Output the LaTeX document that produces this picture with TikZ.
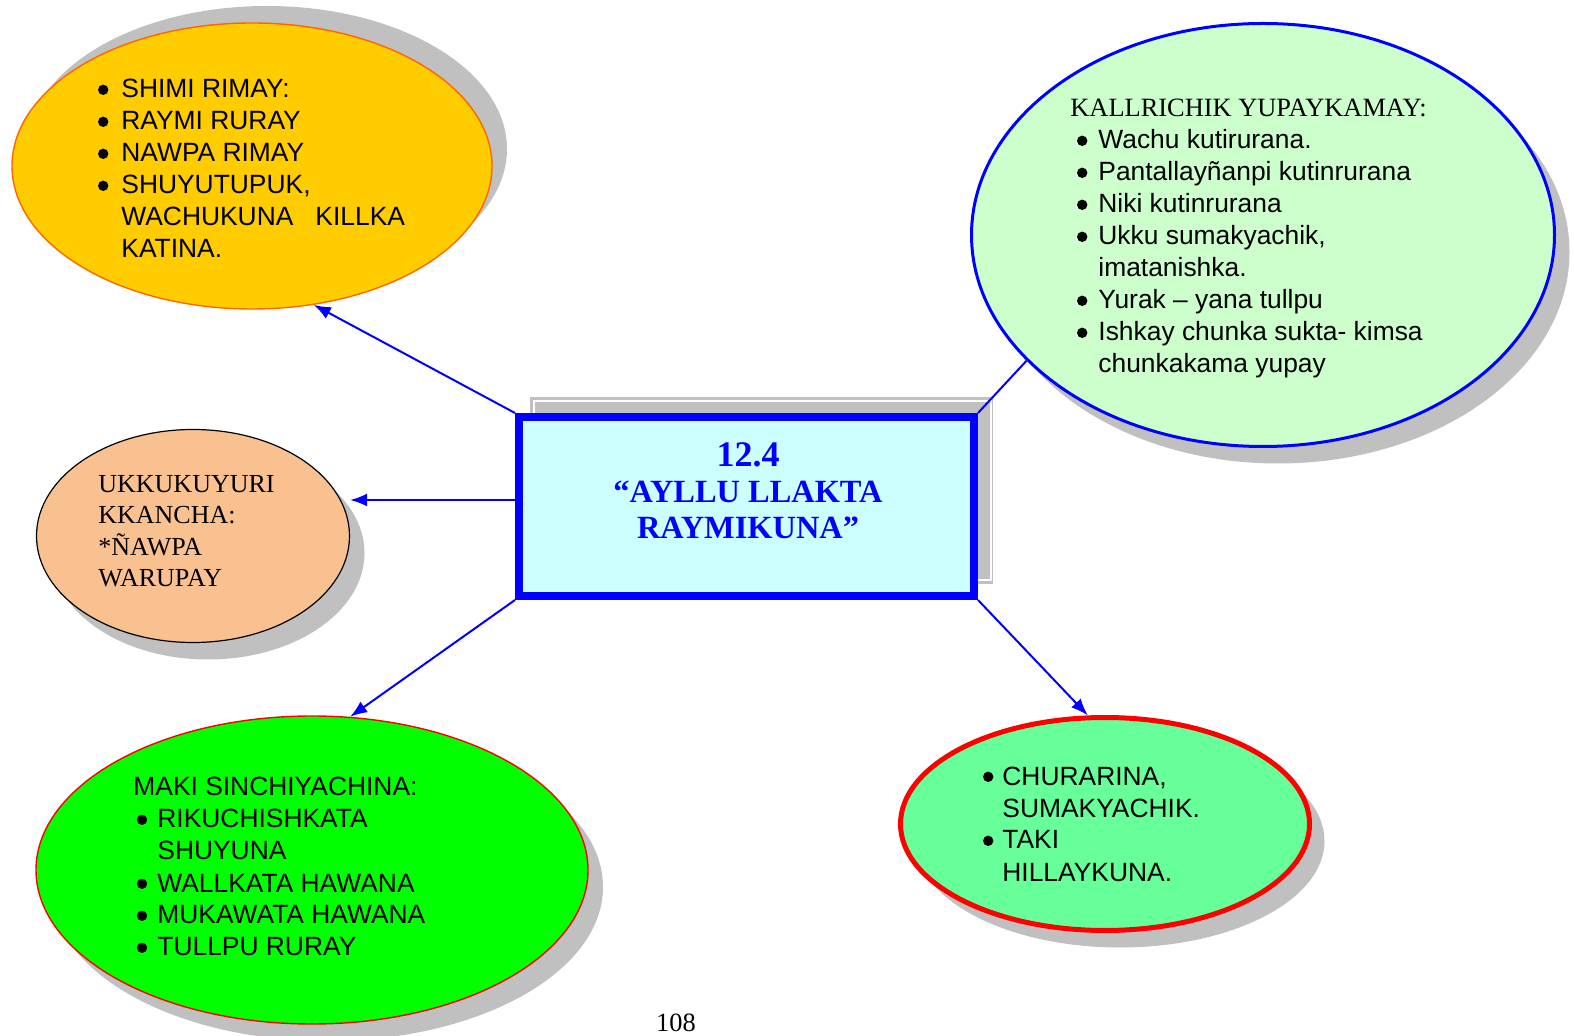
\documentclass[tikz,border=0pt]{standalone}
\usepackage{fontspec}
\setmainfont{Liberation Serif}
\newfontfamily\arialf{Liberation Sans}
\usetikzlibrary{shapes.geometric,arrows.meta,shadows}
\pgfdeclarelayer{bg}
\pgfsetlayers{bg,main}
\definecolor{shgray}{HTML}{C0C0C0}
\definecolor{yelf}{HTML}{FFCC00}
\definecolor{yeld}{HTML}{FF6600}
\definecolor{kalf}{HTML}{CCFFCC}
\definecolor{orf}{HTML}{F9C090}
\definecolor{grnf}{HTML}{00FF00}
\definecolor{mintf}{HTML}{66FF99}
\definecolor{cyanf}{HTML}{CCFFFF}
\definecolor{pureblue}{HTML}{0000FF}
\definecolor{purered}{HTML}{FF0000}
\newcommand\bul[1]{\makebox[#1][l]{\hspace*{0.3pt}\tikz[baseline=0pt]\fill[black] (2.6pt,4.1pt) circle[radius=2.6pt];}}
\begin{document}
\begin{tikzpicture}[x=0.5pt,y=-0.5pt,
  oval/.style={ellipse, inner sep=0pt},
  shdown/.style={drop shadow={shadow xshift=7.5pt,shadow yshift=-8.5pt,opacity=1,fill=shgray}},
  shup/.style={drop shadow={shadow xshift=7.5pt,shadow yshift=8.5pt,opacity=1,fill=shgray}},
  sans/.style={font=\arialf\fontsize{13.2}{16}\selectfont},
  txt/.style={inner sep=0pt, anchor=base west},
  arr/.style={draw=pureblue, line width=1pt, -{Latex[length=8.5pt,width=6.5pt]}},
  link/.style={draw=pureblue, line width=1pt},
]
\useasboundingbox (0,0) rectangle (1574,1036);
\clip (0,0) rectangle (1574,1036);
\begin{pgfonlayer}{bg}
\fill[white] (0,0) rectangle (1574,1036);
\end{pgfonlayer}

% ellipses
\node[oval, shup, fill=yelf, draw=yeld, line width=0.7pt, minimum width=240pt, minimum height=143pt] (yel) at (252,166) {};
\node[oval, shdown, fill=kalf, draw=pureblue, line width=1.5pt, minimum width=291.5pt, minimum height=211.5pt] (kal) at (1263,235) {};
\node[oval, shdown, fill=orf, draw=black, line width=0.6pt, minimum width=156.5pt, minimum height=106.5pt] (ukk) at (193,536) {};
\node[oval, shdown, fill=grnf, draw=purered, line width=0.7pt, minimum width=276pt, minimum height=154pt] (maki) at (312,870) {};
\node[oval, shdown, fill=mintf, draw=purered, line width=2.5pt, minimum width=204.5pt, minimum height=106.5pt] (chu) at (1105,824) {};

% central box
\node[draw=pureblue, fill=cyanf, line width=4pt, minimum width=227.5pt, minimum height=89.5pt, inner sep=0pt] (box) at (746.5,506.5) {};
\begin{pgfonlayer}{bg}
\fill[shgray] ([shift={(15,-16)}]box.north west) rectangle ([shift={(15,-16)}]box.south east);
\draw[white, line width=0.6pt] ([shift={(19,-12)}]box.north west) rectangle ([shift={(13,-20)}]box.south east);
\end{pgfonlayer}

% connectors
\draw[arr] (box.north west) -- (yel.-66);
\draw[arr] ([yshift=3.25pt]box.west) -- ([yshift=3.25pt]box.west -| ukk.east);
\draw[arr] (box.south west) -- (maki.76);
\draw[arr] (box.south east) -- (chu.99);
\draw[link] (box.north east) -- (kal.208.6);

% texts
\node[txt, sans] (yeltxt) at (97,98) {\begin{tabular}[t]{@{}l@{}}
\bul{12pt}SHIMI RIMAY:\\
\bul{12pt}RAYMI RURAY\\
\bul{12pt}NAWPA RIMAY\\
\bul{12pt}SHUYUTUPUK,\\
\hspace*{12pt}WACHUKUNA\ \ \ KILLKA\\
\hspace*{12pt}KATINA.
\end{tabular}};

\node[txt, sans] (kaltxt) at (1070,117) {\begin{tabular}[t]{@{}l@{}}
{\rmfamily KALLRICHIK YUPAYKAMAY:}\\
\hspace*{3pt}\bul{11pt}Wachu kutirurana.\\
\hspace*{3pt}\bul{11pt}Pantallayñanpi kutinrurana\\
\hspace*{3pt}\bul{11pt}Niki kutinrurana\\
\hspace*{3pt}\bul{11pt}Ukku sumakyachik,\\
\hspace*{14pt}imatanishka.\\
\hspace*{3pt}\bul{11pt}Yurak – yana tullpu\\
\hspace*{3pt}\bul{11pt}Ishkay chunka sukta- kimsa\\
\hspace*{14pt}chunkakama yupay
\end{tabular}};

\node[txt, font=\rmfamily\fontsize{13}{15.5}\selectfont] (ukktxt) at (98,493) {\begin{tabular}[t]{@{}l@{}}
UKKUKUYURI\\
KKANCHA:\\
\relax *ÑAWPA\\
WARUPAY
\end{tabular}};

\node[txt, sans] (makitxt) at (133,796) {\begin{tabular}[t]{@{}l@{}}
MAKI SINCHIYACHINA:\\
\hspace*{1.4pt}\bul{10.6pt}RIKUCHISHKATA\\
\hspace*{12pt}SHUYUNA\\
\hspace*{1.4pt}\bul{10.6pt}WALLKATA HAWANA\\
\hspace*{1.4pt}\bul{10.6pt}MUKAWATA HAWANA\\
\hspace*{1.4pt}\bul{10.6pt}TULLPU RURAY
\end{tabular}};

\node[txt, sans] (chutxt) at (982,785) {\begin{tabular}[t]{@{}l@{}}
\bul{10pt}CHURARINA,\\
\hspace*{10pt}SUMAKYACHIK.\\
\bul{10pt}TAKI\\
\hspace*{10pt}HILLAYKUNA.
\end{tabular}};

\node[inner sep=0pt, anchor=base, text=pureblue, font=\rmfamily\bfseries\fontsize{16.2}{18}\selectfont] (title) at (748,467) {\begin{tabular}[t]{@{}c@{}}
{\fontsize{18}{18}\selectfont 12.4}\\
“AYLLU LLAKTA\\
RAYMIKUNA”
\end{tabular}};

\node[inner sep=0pt, anchor=base, font=\rmfamily\fontsize{13.2}{16}\selectfont] (pg) at (676,1031) {108};
\end{tikzpicture}
\end{document}
